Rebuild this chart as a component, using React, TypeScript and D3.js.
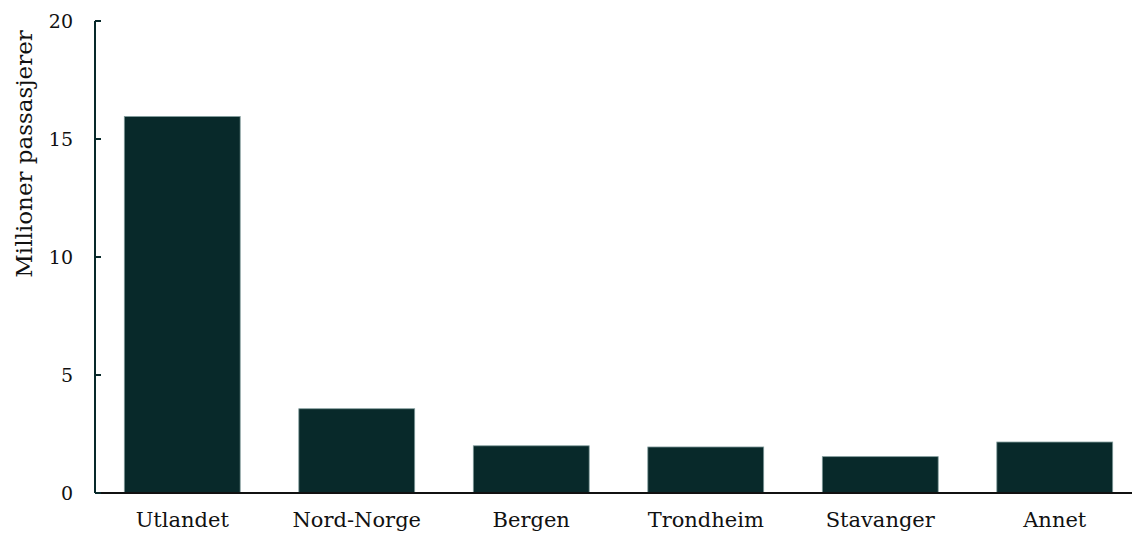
import React from "react";
import * as d3 from "d3";

const categories = ["Utlandet", "Nord-Norge", "Bergen", "Trondheim", "Stavanger", "Annet"];
const values = [15.95, 3.57, 2.0, 1.95, 1.54, 2.16];
const yTicks = [0, 5, 10, 15, 20];
const yLabel = "Millioner passasjerer";

const W = 1132;
const H = 533;
const FONT = "'DejaVu Serif', Georgia, serif";
const DARK = "#08292a";

export default function App() {
  const x = d3.scaleBand<string>().domain(categories).range([95, 1142]).paddingInner(0.336).paddingOuter(0.168);
  const y = d3.scaleLinear().domain([0, 20]).range([493, 21]);
  return (
    <svg width={W} height={H} style={{ position: "absolute", left: 0, top: 0, background: "#fff" }}>
      {categories.map((c, i) => (
        <rect key={c} x={x(c)} y={y(values[i])} width={x.bandwidth()} height={y(0) - y(values[i])}
          fill={DARK} stroke="#7f9a9a" strokeWidth={0.8} />
      ))}
      <line x1={95} x2={1142} y1={y(0)} y2={y(0)} stroke="#111" strokeWidth={2} />
      <line x1={95} x2={95} y1={y(20)} y2={y(0)} stroke={DARK} strokeWidth={2} />
      {yTicks.map((t) => (
        <g key={t}>
          <line x1={95} x2={101} y1={y(t)} y2={y(t)} stroke={DARK} strokeWidth={2} />
          <text x={73} y={y(t)} dy="0.35em" textAnchor="end" fontFamily={FONT} fontSize={19} fill="#111">{t}</text>
        </g>
      ))}
      {categories.map((c) => (
        <text key={c} x={(x(c) as number) + x.bandwidth() / 2} y={527} textAnchor="middle" fontFamily={FONT} fontSize={21} fill="#111">{c}</text>
      ))}
      <text transform={`translate(32,154) rotate(-90)`} textAnchor="middle" fontFamily={FONT} fontSize={23} fill="#111">{yLabel}</text>
    </svg>
  );
}
